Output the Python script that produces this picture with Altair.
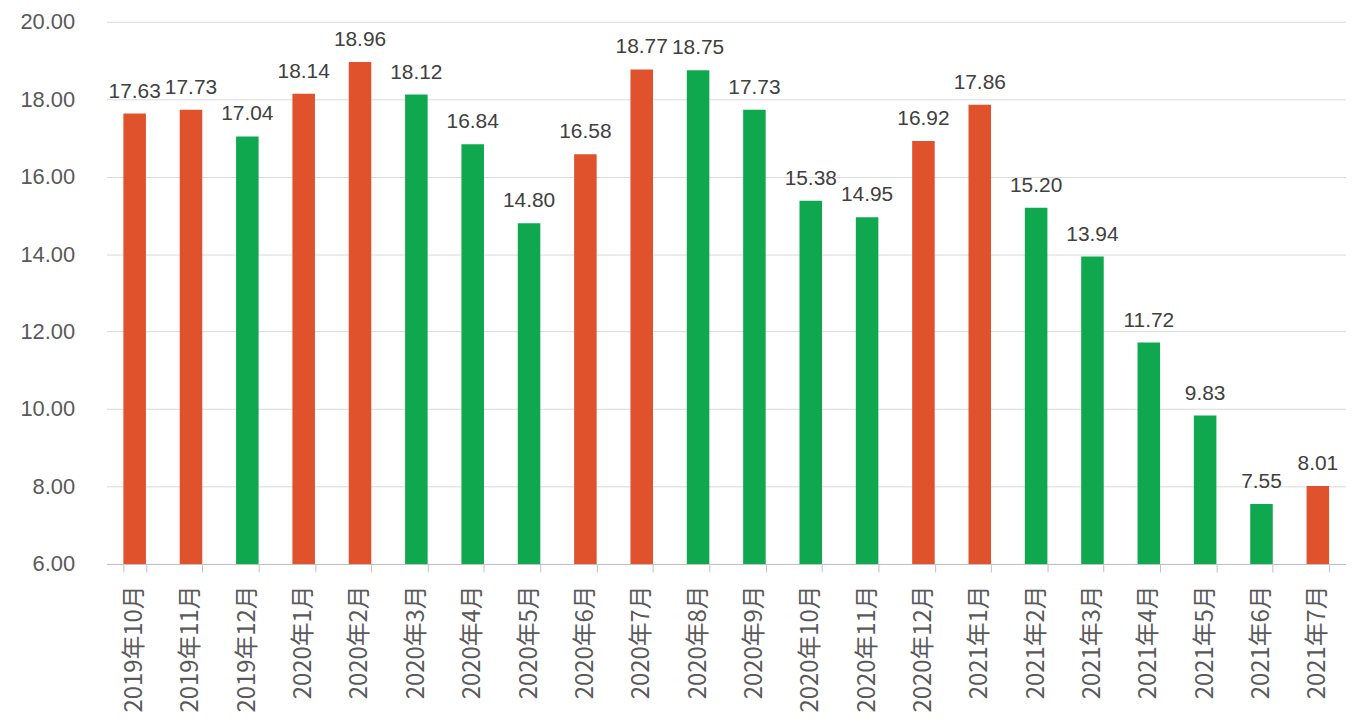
import altair as alt
import pandas as pd

months = ["2019年10月", "2019年11月", "2019年12月", "2020年1月", "2020年2月", "2020年3月",
          "2020年4月", "2020年5月", "2020年6月", "2020年7月", "2020年8月", "2020年9月",
          "2020年10月", "2020年11月", "2020年12月", "2021年1月", "2021年2月", "2021年3月",
          "2021年4月", "2021年5月", "2021年6月", "2021年7月"]
values = [17.63, 17.73, 17.04, 18.14, 18.96, 18.12, 16.84, 14.80, 16.58, 18.77, 18.75,
          17.73, 15.38, 14.95, 16.92, 17.86, 15.20, 13.94, 11.72, 9.83, 7.55, 8.01]
direction = ["涨", "涨", "跌", "涨", "涨", "跌", "跌", "跌", "涨", "涨", "跌",
             "跌", "跌", "跌", "涨", "涨", "跌", "跌", "跌", "跌", "跌", "涨"]
y_ticks = [6, 8, 10, 12, 14, 16, 18, 20]

df = pd.DataFrame({"month": months, "value": values, "dir": direction})

x_enc = alt.X("month:N", sort=months,
              scale=alt.Scale(paddingInner=0.6, paddingOuter=0.3),
              axis=alt.Axis(title=None, labelAngle=-90, labelFontSize=24,
                            labelFont="Noto Sans CJK SC", labelColor="#595959",
                            domainColor="#bfbfbf", tickColor="#bfbfbf", tickSize=8,
                            tickBand="extent", labelPadding=13, grid=False))
y_scale = alt.Scale(domain=[6, 20], nice=False, zero=False)

bars = alt.Chart(df).mark_bar().encode(
    x=x_enc,
    y=alt.Y("value:Q", scale=y_scale,
            axis=alt.Axis(title=None, values=y_ticks, format=".2f", labelFontSize=22,
                          labelFont="Liberation Sans", labelColor="#595959",
                          labelPadding=32, ticks=False, domain=False,
                          grid=True, gridColor="#d9d9d9", gridWidth=1)),
    y2=alt.datum(6),
    color=alt.Color("dir:N", scale=alt.Scale(domain=["涨", "跌"],
                                               range=["#E0522B", "#0FA84F"]),
                    legend=None),
)

labels = alt.Chart(df).mark_text(baseline="bottom", dy=-12, fontSize=21,
                                 font="Liberation Sans", color="#404040").encode(
    x=alt.X("month:N", sort=months),
    y=alt.Y("value:Q", scale=y_scale),
    text=alt.Text("value:Q", format=".2f"),
)

chart = (bars + labels).properties(
    width=1246, height=545,
    padding={"left": 99, "top": 12, "right": 0, "bottom": 150},
    autosize=alt.AutoSizeParams(type="none"),
    background="white",
).configure_view(stroke=None)

chart.save("out.html", embed_options={"renderer": "svg", "actions": False})
